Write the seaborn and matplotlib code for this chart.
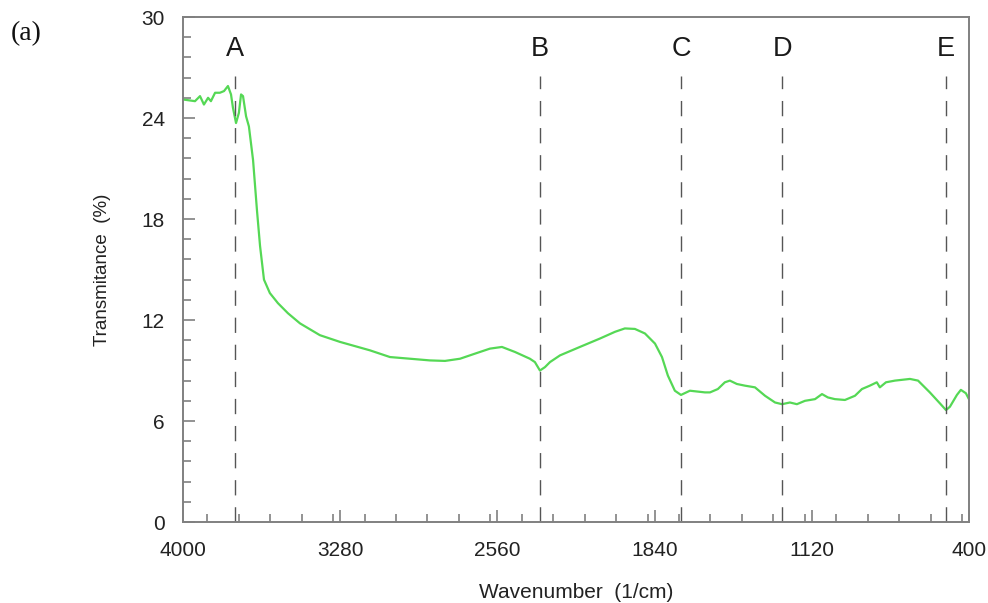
import numpy as np
import pandas as pd
import matplotlib
matplotlib.use("Agg")
import matplotlib.pyplot as plt
from matplotlib.ticker import MultipleLocator
import seaborn as sns

# --- data ---
wavenumber = [4000, 3945, 3922, 3904, 3885, 3872, 3853, 3831, 3812, 3794,
              3780, 3771, 3757, 3744, 3734, 3725, 3711, 3698, 3679, 3661,
              3647, 3629, 3602, 3565, 3519, 3464, 3373, 3281, 3144, 3052,
              2960, 2869, 2800, 2731, 2663, 2594, 2539, 2479, 2411, 2388,
              2365, 2342, 2319, 2273, 2182, 2090, 2021, 1976, 1930, 1884,
              1838, 1806, 1779, 1747, 1719, 1678, 1609, 1586, 1550, 1518,
              1495, 1463, 1426, 1380, 1334, 1288, 1256, 1220, 1188, 1151,
              1105, 1073, 1046, 1014, 968, 922, 890, 854, 822, 808,
              780, 739, 670, 633, 579, 533, 505, 487, 455, 437,
              414, 400]
transmittance = [25.1, 25.0, 25.3, 24.8, 25.2, 25.0, 25.5, 25.5, 25.6, 25.9,
                 25.4, 24.6, 23.7, 24.3, 25.4, 25.3, 24.1, 23.5, 21.5, 18.5,
                 16.4, 14.4, 13.6, 13.0, 12.4, 11.8, 11.1, 10.7, 10.2, 9.8,
                 9.7, 9.6, 9.57, 9.7, 10.0, 10.3, 10.4, 10.1, 9.7, 9.5,
                 9.0, 9.2, 9.5, 9.9, 10.4, 10.9, 11.3, 11.5, 11.47, 11.2,
                 10.6, 9.8, 8.7, 7.8, 7.55, 7.8, 7.7, 7.7, 7.9, 8.3,
                 8.4, 8.2, 8.1, 8.0, 7.5, 7.1, 7.0, 7.1, 7.0, 7.2,
                 7.3, 7.6, 7.4, 7.3, 7.25, 7.5, 7.9, 8.1, 8.3, 8.0,
                 8.3, 8.4, 8.5, 8.4, 7.7, 7.05, 6.65, 6.85, 7.55, 7.85,
                 7.65, 7.3]

peak_labels = ["A", "B", "C", "D", "E"]
peak_positions = [3762, 2365, 1719, 1256, 505]

x_ticks = [4000, 3280, 2560, 1840, 1120, 400]
y_ticks = [0, 6, 12, 18, 24, 30]

df = pd.DataFrame({"Wavenumber": wavenumber, "Transmittance": transmittance})

# --- style ---
sns.set_style("white")
plt.rcParams["font.family"] = ["Liberation Sans", "DejaVu Sans"]

fig = plt.figure(figsize=(9.88, 6.03), dpi=100)
ax = fig.add_axes([0.1852, 0.1343, 0.7955, 0.8375])

sns.lineplot(data=df, x="Wavenumber", y="Transmittance", ax=ax,
             color="#55d855", linewidth=1.6)

# dashed markers for bands
ax.vlines(peak_positions, 0, 26.5, colors="#555555", linestyles=(0, (11, 8.5)),
          linewidth=1.0)
for lab, pos in zip(peak_labels, peak_positions):
    ax.text(pos, 28.1, lab, ha="center", va="center", fontsize=19.5, color="#1a1a1a")

# --- axes ---
ax.set_xlim(4000, 400)
ax.set_ylim(0, 30)
ax.set_xticks(x_ticks)
ax.set_yticks(y_ticks)
ax.xaxis.set_minor_locator(MultipleLocator(144))
ax.yaxis.set_minor_locator(MultipleLocator(1.2))
ax.tick_params(which="both", direction="in", color="#808080", width=1.2,
               bottom=True, left=True, top=False, right=False,
               labelsize=15, labelcolor="#222222")
ax.tick_params(which="major", length=8.5)
ax.tick_params(which="minor", length=5.5)
ax.tick_params(axis="x", which="major", pad=14)
ax.tick_params(axis="y", which="major", pad=13)
for s in ax.spines.values():
    s.set_color("#808080")
    s.set_linewidth(1.4)

ax.set_xlabel("Wavenumber  (1/cm)", fontsize=15, color="#222222", labelpad=16)
ax.set_ylabel("Transmitance  (%)", fontsize=13.5, color="#222222", labelpad=22)

fig.text(0.026, 0.945, "(a)", fontsize=20, family=["Liberation Serif", "DejaVu Serif"],
         ha="center", va="center", color="#111111")

fig.savefig("out.png", dpi=100)
